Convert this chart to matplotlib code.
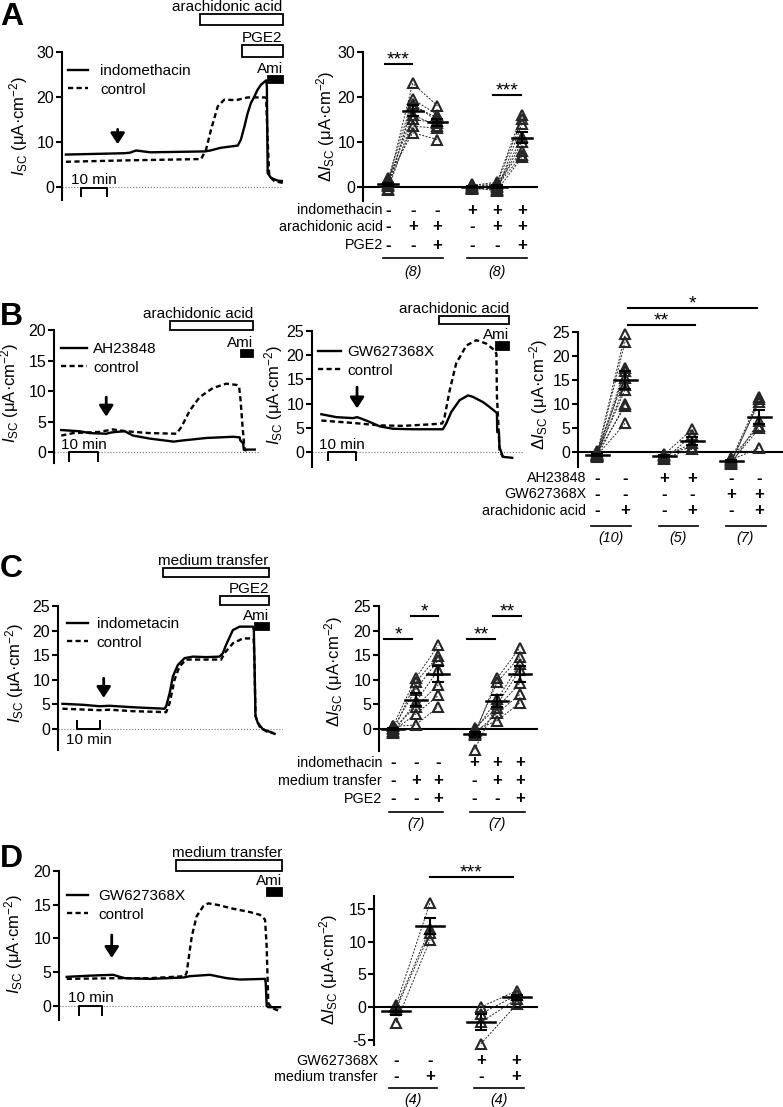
import numpy as np
import matplotlib.pyplot as plt
from matplotlib.patches import Rectangle
from matplotlib.transforms import blended_transform_factory

plt.rcParams['font.family'] = ['Liberation Sans', 'DejaVu Sans']
plt.rcParams['mathtext.fontset'] = 'custom'
plt.rcParams['mathtext.rm'] = 'Liberation Sans'
plt.rcParams['mathtext.it'] = 'Liberation Sans:italic'
plt.rcParams['axes.linewidth'] = 1.5
plt.rcParams['axes.unicode_minus'] = False

W, H = 783, 1107

# ---------------- Isc traces (time in min, Isc in uA/cm2) ----------------
a_indo_t = [1.5, 24, 26, 28.5, 34, 55, 57, 61, 67.6, 68.8, 70.1, 71.4, 72.7, 74, 75.2, 76.5, 78.5, 78.8, 79.1, 80.4, 83, 84.9]
a_indo_v = [7.2, 7.5, 7.6, 8.1, 7.7, 7.9, 8.1, 8.7, 9.2, 10.5, 13.3, 16.4, 18.7, 20.1, 21.6, 22.7, 23.7, 22.4, 3.1, 2.0, 1.4, 1.3]
a_ctrl_t = [1.5, 24, 53.5, 55.4, 57.3, 59.9, 62.4, 67, 71.4, 78.5, 79.1, 79.7, 81.7, 84.9]
a_ctrl_v = [5.6, 5.9, 6.2, 8.3, 12.7, 17.9, 19.4, 19.3, 19.9, 19.9, 10.5, 2.4, 1.3, 0.9]

b_ah_t = [2.5, 8.9, 12.3, 18, 19.7, 21.5, 24.4, 27.2, 33, 40.5, 41.1, 44.5, 52.5, 61.7, 64, 64.2, 65.2, 65.4, 69.2]
b_ah_v = [3.6, 3.4, 3.1, 3.0, 3.2, 3.3, 3.4, 2.7, 2.2, 1.75, 1.7, 1.9, 2.3, 2.5, 2.4, 1.9, 1.4, 0.4, 0.4]
b_ahc_t = [2.5, 6.6, 15.7, 20.3, 24.9, 33, 42.2, 43.9, 46.8, 50.2, 54.8, 59.4, 62.9, 63.8, 64.3, 65, 65.7, 67.5]
b_ahc_v = [2.7, 3.1, 3.3, 3.7, 3.4, 3.1, 3.0, 4.1, 6.8, 9.0, 10.5, 11.2, 11.0, 10.7, 8.5, 4.1, 0.3, 0.3]

b_gw_t = [3.3, 8.6, 14.5, 15.9, 17.4, 20.4, 23.9, 28.6, 35.6, 46.2, 47.4, 49.2, 52.1, 55.1, 56.8, 60.4, 62.7, 64.8,
          65.3, 65.4, 66, 66.2, 67.4, 70.7]
b_gw_v = [7.8, 7.2, 7.0, 7.2, 6.9, 6.2, 5.3, 4.8, 4.7, 4.7, 5.9, 8.3, 10.7, 11.7, 11.4, 10.3, 9.3, 8.3,
          8.0, 4.1, 4.1, 1.0, -1.0, -1.2]
b_gwc_t = [3.3, 14.5, 23.9, 32.1, 41.5, 46, 46.8, 48.6, 50.9, 54.5, 58, 61.5, 64.5, 65.1, 65.3, 65.8, 66.2, 67.4]
b_gwc_v = [6.5, 6.0, 5.5, 5.4, 5.7, 5.9, 7.2, 12.7, 18.3, 22, 23.1, 22.4, 21, 20.3, 11.4, 5.9, 0.3, -1.0]

c_indo_t = [1.9, 10.7, 17.9, 22.1, 32.1, 45.7, 46.4, 47.9, 49.3, 51.4, 54.3, 57.9, 63.6, 69.3, 70.7, 72.1, 75,
            77.9, 83.6, 84.0, 84.7, 85.7, 87.9, 92.1]
c_indo_v = [5.1, 4.9, 4.6, 4.7, 4.4, 4.1, 4.6, 7.3, 10.7, 13.0, 14.4, 14.7, 14.6, 14.7, 15.4, 17.1, 20.1,
            20.8, 20.8, 20.1, 2.6, 1.2, -0.1, -0.8]
c_ctrl_t = [1.9, 17.9, 22.1, 32.1, 46.4, 47.9, 50, 52.1, 55, 63.6, 70, 71.4, 75, 79.3, 83.9, 84.3, 84.7, 86.4, 89.3, 93.6]
c_ctrl_v = [4.1, 3.8, 3.9, 3.6, 3.4, 5.3, 10, 12.7, 14.1, 14.1, 14.1, 15.4, 17.4, 18.4, 18.4, 13.4, 2.6, 0.5, -0.5, -1.1]

d_gw_t = [3.3, 14.7, 23.3, 26.1, 28.3, 39, 53.3, 56.1, 64.7, 71.9, 77.6, 88.3, 88.6, 89, 89.7, 94.7]
d_gw_v = [4.3, 4.5, 4.6, 4.3, 4.1, 4.0, 4.2, 4.4, 4.6, 4.1, 3.9, 4.0, 3.4, 0, -0.2, -0.2]
d_ctrl_t = [3.3, 24.7, 39, 54, 54.7, 56.9, 59, 61.9, 64, 67.6, 74.7, 81.9, 86.1, 88.3, 89, 89.7, 91.1, 94.7]
d_ctrl_v = [4.0, 4.1, 4.1, 4.4, 4.9, 10.3, 13.3, 14.8, 15.2, 15.0, 14.4, 13.9, 13.5, 12.8, 8.8, 0.4, -0.3, -0.8]

# ---------------- paired delta Isc values ----------------
a_ctrl_base = [0.5, 1.5, -0.5, 0.2, 1.0, -0.8, 0.3, 2.0]
a_ctrl_aa = [23.0, 19.5, 18.5, 18.0, 16.0, 15.0, 13.5, 12.0]
a_ctrl_pge2 = [18.0, 16.0, 14.6, 15.3, 13.5, 14.2, 13.0, 10.5]
a_indo_base = [0.3, -0.5, 0.0, -0.3, 0.2, -0.2, 0.5, -0.4]
a_indo_aa = [1.0, 0.5, -1.0, 0.0, -0.5, 0.8, 0.2, -0.8]
a_indo_pge2 = [16.0, 15.0, 14.0, 11.0, 10.0, 8.0, 7.0, 6.5]

b_ctrl_base = [-0.3, -0.8, -0.5, -1.0, 0.2, -0.6, -0.4, -0.9, -0.2, -0.7]
b_ctrl_aa = [24.5, 23.0, 17.5, 16.8, 15.5, 14.0, 13.0, 10.0, 9.5, 6.0]
b_ah_base = [-0.5, -1.5, -0.8, -0.3, -1.2]
b_ah_aa = [4.8, 3.5, 1.8, 1.0, 0.6]
b_gw_base = [-1.5, -2.2, -1.8, -2.4, -1.2, -2.0, -1.6]
b_gw_aa = [11.5, 11.0, 10.5, 6.5, 5.5, 5.0, 0.9]

c_ctrl_base = [0.6, -0.6, 0.2, -0.8, 0.0, -0.4, 0.5]
c_ctrl_mt = [10.3, 9.5, 8.0, 5.5, 4.5, 3.0, 0.8]
c_ctrl_pge2 = [17.0, 14.8, 14.0, 12.0, 9.0, 6.8, 4.5]
c_indo_base = [-1.2, -0.8, -0.5, -4.2, 0.2, -1.0, -0.3]
c_indo_mt = [10.3, 9.5, 6.0, 5.0, 4.3, 3.2, 1.7]
c_indo_pge2 = [16.5, 14.7, 13.3, 12.0, 9.3, 7.0, 5.3]

d_ctrl_base = [0.3, 0.0, -0.3, -2.4]
d_ctrl_mt = [16.0, 12.0, 11.3, 10.3]
d_gw_base = [0.0, -1.0, -2.3, -5.6]
d_gw_mt = [2.5, 1.8, 1.2, 0.4]

# treatment tables under the summary plots
a_rows = ['indomethacin', 'arachidonic acid', 'PGE2']
a_signs = ['---+++', '-++-++', '--+--+']
a_n = ['(8)', '(8)']
b_rows = ['AH23848', 'GW627368X', 'arachidonic acid']
b_signs = ['--++--', '----++', '-+-+-+']
b_n = ['(10)', '(5)', '(7)']
c_rows = ['indomethacin', 'medium transfer', 'PGE2']
c_signs = ['---+++', '-++-++', '--+--+']
c_n = ['(7)', '(7)']
d_rows = ['GW627368X', 'medium transfer']
d_signs = ['--++', '-+-+']
d_n = ['(4)', '(4)']

ISC = r'$\mathit{I}_{\mathrm{SC}}$ (μA·cm$^{-2}$)'
DISC = r'Δ$\mathit{I}_{\mathrm{SC}}$ (μA·cm$^{-2}$)'
DASH = (0, (2.2, 1.4))

fig = plt.figure(figsize=(W / 100, H / 100), dpi=100)


def add_box(box):
    l, r, t, b = box
    return fig.add_axes([l / W, 1 - b / H, (r - l) / W, (b - t) / H])


def ylab(ax, box, text, px, py):
    # px = right edge of the rotated label, py = its centre
    l, r, t, b = box
    ax.set_ylabel(text, fontsize=12)
    ax.yaxis.set_label_coords((px - l) / (r - l), (b - py) / (b - t))


def trace_axes(box, xmax, ylim, yticks):
    ax = add_box(box)
    ax.set_xlim(0, xmax)
    ax.set_ylim(*ylim)
    for s in ['top', 'right', 'bottom']:
        ax.spines[s].set_visible(False)
    ax.set_xticks([])
    ax.set_yticks(yticks)
    ax.tick_params(axis='y', length=4, width=1.5, labelsize=11.5, pad=1.5)
    ax.axhline(0, color='0.45', ls=':', lw=0.8, zorder=0)
    return ax


def traces(ax, t1, v1, t2, v2, labels, lx, ly, hl, pad):
    ax.plot(t1, v1, color='k', lw=1.7, label=labels[0])
    ax.plot(t2, v2, color='k', lw=1.7, ls=DASH, label=labels[1])
    ax.legend(loc='upper left', bbox_to_anchor=(lx / W, 1 - ly / H), bbox_transform=fig.transFigure,
              frameon=False, fontsize=11, handlelength=hl, handletextpad=pad, labelspacing=0.3,
              borderpad=0, borderaxespad=0)


def treat(ax, t0, t1, v0, v1, label, filled=False):
    ax.add_patch(Rectangle((t0, v0), t1 - t0, v1 - v0, fc='k' if filled else 'w', ec='k', lw=1.3,
                           clip_on=False))
    ax.text(t1, v1, label, ha='right', va='bottom', fontsize=11)


def drug_arrow(ax, t, v0, v1):
    ax.annotate('', xy=(t, v1), xytext=(t, v0),
                arrowprops=dict(arrowstyle='-|>,head_length=0.65,head_width=0.42', color='k', lw=2,
                                shrinkA=0, shrinkB=0, mutation_scale=10))


def scalebar(ax, t0, t1, v_bar, v_tick, v_text):
    ax.plot([t0, t0, t1, t1], [v_tick, v_bar, v_bar, v_tick], color='k', lw=1.4, clip_on=False)
    ax.text((t0 + t1) / 2, v_text, '10 min', ha='center', va='center', fontsize=11)


def summary_axes(box, xlim, ylim, yticks):
    ax = add_box(box)
    ax.set_xlim(*xlim)
    ax.set_ylim(*ylim)
    for s in ['top', 'right', 'bottom']:
        ax.spines[s].set_visible(False)
    ax.set_xticks([])
    ax.set_yticks(yticks)
    ax.tick_params(axis='y', length=4, width=1.5, labelsize=11.5, pad=1.5)
    ax.axhline(0, color='k', lw=1.5, zorder=1)
    return ax


def paired(ax, xs, conds, hw):
    data = np.array(conds)
    for k in range(data.shape[1]):
        ax.plot(xs, data[:, k], color='0.15', lw=0.7, ls=(0, (2, 1.5)), zorder=2)
    for x, vals in zip(xs, data):
        ax.plot(np.full(len(vals), x), vals, ls='none', marker='^', ms=7.5, mfc='none', mec='0.15',
                mew=1.5, zorder=3, clip_on=False)
        m = vals.mean()
        sem = vals.std(ddof=1) / np.sqrt(len(vals))
        ax.plot([x - hw, x + hw], [m, m], color='k', lw=1.8, zorder=4)
        ax.errorbar(x, m, yerr=sem, fmt='none', ecolor='k', elinewidth=1.5, capsize=4, capthick=1.5,
                    zorder=4)


def sig(ax, x0, x1, v, stars):
    ax.plot([x0, x1], [v, v], color='k', lw=1.5, clip_on=False)
    ax.annotate(stars, ((x0 + x1) / 2, v), xytext=(0, -0.5), textcoords='offset points',
                ha='center', va='baseline', fontsize=14, annotation_clip=False)


def table(ax, pos, rows, signs, label_px, rows_px, groups, ns, line_px, n_px):
    tr = blended_transform_factory(ax.transData, fig.transFigure)
    for name, row, py in zip(rows, signs, rows_px):
        fig.text(label_px / W, 1 - py / H, name, ha='right', va='center', fontsize=10.3)
        for x, s in zip(pos, row):
            ax.text(x, 1 - py / H, s, transform=tr, ha='center', va='center', fontsize=12,
                    fontweight='bold')
    for g, n in zip(groups, ns):
        x0, x1 = pos[g[0]] - 0.2, pos[g[-1]] + 0.22
        ax.plot([x0, x1], [1 - line_px / H] * 2, transform=tr, color='k', lw=1.2, clip_on=False)
        ax.text((pos[g[0]] + pos[g[-1]]) / 2, 1 - n_px / H, n, transform=tr, ha='center', va='center',
                fontsize=10.3, style='italic')


# ---------------- panel A ----------------
fig.text(0, 1 - 25 / H, 'A', fontsize=23, fontweight='bold', va='baseline')
box = (62, 283, 52, 200)
ax = trace_axes(box, 85, (-2.9, 30), [0, 10, 20, 30])
traces(ax, a_indo_t, a_indo_v, a_ctrl_t, a_ctrl_v, ['indomethacin', 'control'], 68, 64, 1.3, 0.8)
treat(ax, 53, 84.9, 36, 38.5, 'arachidonic acid')
treat(ax, 69.2, 84.9, 28.9, 31.5, 'PGE2')
treat(ax, 79.1, 84.9, 23, 24.7, 'Ami', filled=True)
drug_arrow(ax, 21.4, 12.8, 9.5)
scalebar(ax, 7.3, 17.3, -0.2, -2.1, 1.6)
ylab(ax, box, ISC, 30, 126)

a_pos = [0, 1, 2, 3.4, 4.4, 5.4]
box = (363, 538, 52, 201)
ax = summary_axes(box, (-1.0, 6.05), (-3.2, 30), [0, 10, 20, 30])
paired(ax, a_pos[:3], [a_ctrl_base, a_ctrl_aa, a_ctrl_pge2], 0.4)
paired(ax, a_pos[3:], [a_indo_base, a_indo_aa, a_indo_pge2], 0.4)
sig(ax, -0.12, 0.97, 27.3, '***')
sig(ax, 4.25, 5.38, 20.5, '***')
table(ax, a_pos, a_rows, a_signs, 383, [210, 227, 245], [[0, 1, 2], [3, 4, 5]], a_n, 258, 272)
ylab(ax, box, DISC, 337, 126)

# ---------------- panel B ----------------
fig.text(0, 1 - 325 / H, 'B', fontsize=23, fontweight='bold', va='baseline')
box = (54, 260, 330, 463)
ax = trace_axes(box, 71, (-1.8, 20), [0, 5, 10, 15, 20])
traces(ax, b_ah_t, b_ah_v, b_ahc_t, b_ahc_v, ['AH23848', 'control'], 61, 342, 1.7, 0.4)
treat(ax, 40.1, 68.6, 20, 21.5, 'arachidonic acid')
treat(ax, 64.3, 68.6, 15.6, 16.8, 'Ami', filled=True)
drug_arrow(ax, 18, 9, 5.8)
scalebar(ax, 5.2, 15.2, 0, -1.4, 1.2)
ylab(ax, box, ISC, 21, 393)

box = (312, 523, 331, 467)
ax = trace_axes(box, 74.5, (-3.1, 25), [0, 5, 10, 15, 20, 25])
traces(ax, b_gw_t, b_gw_v, b_gwc_t, b_gwc_v, ['GW627368X', 'control'], 318, 345, 1.5, 0.4)
treat(ax, 44.7, 69.5, 26.4, 28.1, 'arachidonic acid')
treat(ax, 65.1, 69.5, 21.1, 22.7, 'Ami', filled=True)
drug_arrow(ax, 15.9, 13.4, 9.0)
scalebar(ax, 5.6, 15.6, 0, -1.7, 1.4)
ylab(ax, box, ISC, 285, 395)

b_pos = [0, 1, 2.4, 3.4, 4.8, 5.8]
box = (578, 783, 332, 467)
ax = summary_axes(box, (-0.68, 6.64), (-3.1, 25), [0, 5, 10, 15, 20, 25])
paired(ax, b_pos[:2], [b_ctrl_base, b_ctrl_aa], 0.41)
paired(ax, b_pos[2:4], [b_ah_base, b_ah_aa], 0.41)
paired(ax, b_pos[4:], [b_gw_base, b_gw_aa], 0.41)
sig(ax, 1.1, 3.5, 26.4, '**')
sig(ax, 1.1, 5.7, 30, '*')
table(ax, b_pos, b_rows, b_signs, 586, [478, 494, 511], [[0, 1], [2, 3], [4, 5]], b_n, 526, 538)
ylab(ax, box, DISC, 550, 394)

# ---------------- panel C ----------------
fig.text(0, 1 - 577 / H, 'C', fontsize=23, fontweight='bold', va='baseline')
box = (58, 283, 606, 750)
ax = trace_axes(box, 96.5, (-4.3, 25), [0, 5, 10, 15, 20, 25])
traces(ax, c_indo_t, c_indo_v, c_ctrl_t, c_ctrl_v, ['indometacin', 'control'], 67, 617, 1.35, 0.6)
treat(ax, 45, 90.4, 30.9, 32.8, 'medium transfer')
treat(ax, 69.3, 90.4, 25.3, 27.1, 'PGE2')
treat(ax, 84.7, 90.4, 20.1, 21.6, 'Ami', filled=True)
drug_arrow(ax, 19.6, 10.3, 6.3)
scalebar(ax, 8.1, 18.1, 0, 1.6, -2.3)
ylab(ax, box, ISC, 26, 673)

c_pos = [0, 1, 2, 3.6, 4.6, 5.6]
box = (379, 538, 606, 751)
ax = summary_axes(box, (-0.62, 6.4), (-4.5, 25), [0, 5, 10, 15, 20, 25])
paired(ax, c_pos[:3], [c_ctrl_base, c_ctrl_mt, c_ctrl_pge2], 0.48)
paired(ax, c_pos[3:], [c_indo_base, c_indo_mt, c_indo_pge2], 0.48)
sig(ax, -0.4, 0.84, 18.3, '*')
sig(ax, 0.78, 2.0, 23, '*')
sig(ax, 3.25, 4.5, 18.3, '**')
sig(ax, 4.42, 5.67, 23, '**')
table(ax, c_pos, c_rows, c_signs, 382, [763, 781, 799], [[0, 1, 2], [3, 4, 5]], c_n, 812, 824)
ylab(ax, box, DISC, 345, 671)

# ---------------- panel D ----------------
fig.text(0, 1 - 867 / H, 'D', fontsize=23, fontweight='bold', va='baseline')
box = (59, 283, 871, 1020)
ax = trace_axes(box, 96, (-2.1, 20), [0, 5, 10, 15, 20])
traces(ax, d_gw_t, d_gw_v, d_ctrl_t, d_ctrl_v, ['GW627368X', 'control'], 67, 889, 1.35, 0.7)
treat(ax, 50.2, 95.7, 20.0, 21.7, 'medium transfer')
treat(ax, 89.3, 95.7, 16.3, 17.5, 'Ami', filled=True)
drug_arrow(ax, 22.6, 10.5, 7.1)
scalebar(ax, 8.6, 18.6, 0, -1.3, 1.1)
ylab(ax, box, ISC, 25, 944)

d_pos = [0, 1, 2.5, 3.55]
box = (374, 538, 896, 1045)
ax = summary_axes(box, (-0.65, 4.18), (-5.8, 17), [-5, 0, 5, 10, 15])
paired(ax, d_pos[:2], [d_ctrl_base, d_ctrl_mt], 0.41)
paired(ax, d_pos[2:], [d_gw_base, d_gw_mt], 0.41)
sig(ax, 1.0, 3.44, 19.9, '***')
table(ax, d_pos, d_rows, d_signs, 378, [1061, 1077], [[0, 1], [2, 3]], d_n, 1088, 1100)
ylab(ax, box, DISC, 340, 969)

fig.savefig('out.png', dpi=100)
